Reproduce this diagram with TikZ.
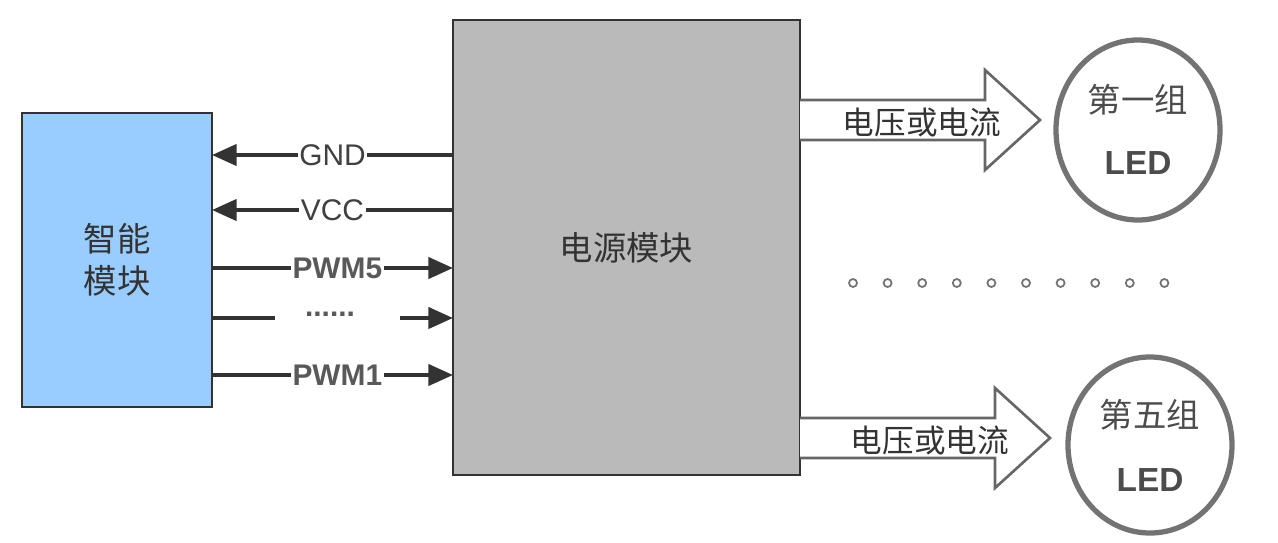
\documentclass[tikz,border=0pt]{standalone}
\usepackage{fontspec}
\setmainfont{Liberation Sans}
\newfontfamily\cjk{Noto Sans CJK SC}
\usetikzlibrary{arrows.meta,shapes.arrows}
\begin{document}
\begin{tikzpicture}[x=0.02cm,y=-0.02cm,
  lbl/.style={fill=white,inner sep=1pt,font=\fontsize{17}{17}\selectfont,text=black!75},
  bl/.style={fill=white,inner sep=1pt,font=\bfseries\fontsize{17}{17}\selectfont,text=black!65},
  sig/.style={line width=2.2pt,draw=black!80,-{Triangle[length=14pt,width=12pt]}},
  ledc/.style={draw=black!55,line width=3pt,text=black!70,font=\cjk\fontsize{19}{22}\selectfont,align=center,inner sep=0pt},
  harrow/.style={draw=black!60,line width=1.5pt,fill=white}]
\useasboundingbox (0,0) rectangle (1278,542);
\node[draw=black!80,line width=1.5pt,fill={rgb,255:red,153;green,204;blue,255},minimum width=190*0.02cm,minimum height=294*0.02cm,font=\cjk\fontsize{19}{24}\selectfont,align=center,text=black!80] (smart) at (117,260) {智能\\模块};
\node[draw=black!80,line width=1.5pt,fill=black!27,minimum width=347*0.02cm,minimum height=455*0.02cm,font=\cjk\fontsize{19}{24}\selectfont,text=black!80] (power) at (626.5,247.5) {电源模块};
\coordinate (g1) at (453,155); \coordinate (g2) at (212,155);
\coordinate (v1) at (453,210); \coordinate (v2) at (212,210);
\coordinate (p51) at (212,268); \coordinate (p52) at (453,268);
\coordinate (d1) at (212,318); \coordinate (d2) at (275,318);
\coordinate (d3) at (400,318); \coordinate (d4) at (453,318);
\coordinate (p11) at (212,375); \coordinate (p12) at (453,375);
\draw[sig] (g1) -- node[lbl]{GND} (g2);
\draw[sig] (v1) -- node[lbl]{VCC} (v2);
\draw[sig] (p51) -- node[bl,pos=0.52]{PWM5} (p52);
\draw[line width=2.2pt,draw=black!80] (d1) -- (d2);
\node[bl] (dots) at (330,314) {......};
\draw[sig] (d3) -- (d4);
\draw[sig] (p11) -- node[bl,pos=0.52]{PWM1} (p12);
% hollow arrows
\draw[harrow] (800,100) -- (985,100) -- (985,70) -- (1040,120) -- (985,170) -- (985,140) -- (800,140);
\node[font=\cjk\fontsize{18}{18}\selectfont,text=black!80] (t1) at (922,122) {电压或电流};
\draw[harrow] (800,418) -- (995,418) -- (995,388) -- (1050,438) -- (995,488) -- (995,458) -- (800,458);
\node[font=\cjk\fontsize{18}{18}\selectfont,text=black!80] (t2) at (930,440) {电压或电流};
\draw[ledc] (1138,130) ellipse (82 and 90);
\node[text=black!70,font=\cjk\fontsize{19}{22}\selectfont] (l1a) at (1138,100) {第一组};
\node[text=black!70,font=\bfseries\fontsize{19}{22}\selectfont] (l1b) at (1138,163) {LED};
\draw[ledc] (1150,445) ellipse (82 and 88);
\node[text=black!70,font=\cjk\fontsize{19}{22}\selectfont] (l2a) at (1150,415) {第五组};
\node[text=black!70,font=\bfseries\fontsize{19}{22}\selectfont] (l2b) at (1150,480) {LED};
\foreach \i in {0,...,9} \draw[black!55,line width=1pt] (853+\i*34.6,283) circle (4);
\end{tikzpicture}
\end{document}
